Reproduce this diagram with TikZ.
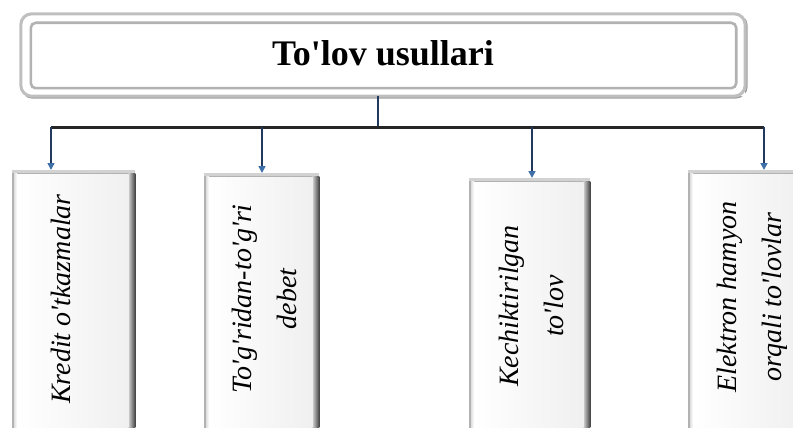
\documentclass[tikz,border=0pt]{standalone}
\usepackage{fontspec}
\setmainfont{Liberation Serif}[Ligatures=TeXOff]
\usetikzlibrary{arrows.meta,calc}

\definecolor{stemblue}{HTML}{1F3A5C}
\definecolor{tipblue}{HTML}{3F6FA8}

\tikzset{
  x=1pt, y=-1pt,
  titlebox/.style={minimum width=724pt, minimum height=82pt, inner sep=0pt},
  titlefont/.style={font=\fontsize{36}{40}\selectfont\bfseries, inner sep=0pt},
  card/.style={anchor=north west, inner sep=0pt, minimum height=270pt},
  lbl/.style={rotate=90, align=center, inner sep=0pt,
    font=\fontsize{28}{45}\selectfont\itshape},
  barline/.style={line width=3pt, black!85},
  stem/.style={line width=2pt, stemblue},
  feed/.style={line width=1.6pt, stemblue,
    -{Triangle[length=7pt, width=7pt, color=tipblue]}},
}

% bevelled card: grey rim, dark right edge, white face
\newcommand\bevelcard[1]{%
  \fill[gray!60] (#1.north west) rectangle (#1.south east);
  \shade[left color=gray!35, right color=black!75]
    ($(#1.north east)+(-7,3)$) rectangle (#1.south east);
  \fill[gray!35] (#1.north west) rectangle ($(#1.north east)+(0,3)$);
  \shade[left color=gray!25, right color=white]
    ($(#1.north west)+(2,3)$) rectangle ($(#1.south west)+(5,0)$);
  \shade[left color=white, right color=gray!12]
    ($(#1.north west)+(5,4)$) rectangle ($(#1.south east)+(-7,0)$);
}

\begin{document}
\begin{tikzpicture}
\useasboundingbox (0,0) rectangle (793,428);

% heading frame: soft outer rim with a slight shadow, inner rim
\node[titlebox] (title) at (383,55) {};
\draw[gray!75, line width=3pt, rounded corners=11pt]
  ($(title.north west)+(1,1)$) rectangle ($(title.south east)+(1,1)$);
\fill[white] (title.north west) rectangle (title.south east);
\draw[gray!50, line width=3pt, rounded corners=11pt]
  (title.north west) rectangle (title.south east);
\draw[gray!60, line width=2.6pt, rounded corners=5pt]
  ($(title.north west)+(10,9)$) rectangle ($(title.south east)+(-9,-8)$);
\node[titlefont] (titletext) at ($(title.center)+(0,-2)$) {To'lov usullari};

% cards
\node[card, minimum width=123pt] (k1) at (12,170) {};
\node[card, minimum width=115pt] (k2) at (204,173) {};
\node[card, minimum width=121pt] (k3) at (469,178) {};
\node[card, minimum width=120pt] (k4) at (688,170) {};
\foreach \k in {k1,k2,k3,k4} {\bevelcard{\k}}

\node[lbl] (t1) at (61,299) {Kredit o'tkazmalar};
\node[lbl] (t2) at (264,299) {To'g'ridan-to'g'ri\\debet};
\node[lbl] (t3) at (531,306) {Kechiktirilgan\\to'lov};
\node[lbl] (t4) at (752,297) {Elektron hamyon\\orqali to'lovlar};

% connectors
\coordinate (hub) at (378,127);
\coordinate (b1) at (51,127);
\coordinate (b2) at (262,127);
\coordinate (b3) at (532,127);
\coordinate (b4) at (764,127);

\draw[stem] (title.south -| hub) -- (hub);
\draw[barline] (b1) -- (b4);
\draw[feed] (b1) -- (b1 |- k1.north);
\draw[feed] (b2) -- (b2 |- k2.north);
\draw[feed] (b3) -- (b3 |- k3.north);
\draw[feed] (b4) -- (b4 |- k4.north);
\end{tikzpicture}
\end{document}
